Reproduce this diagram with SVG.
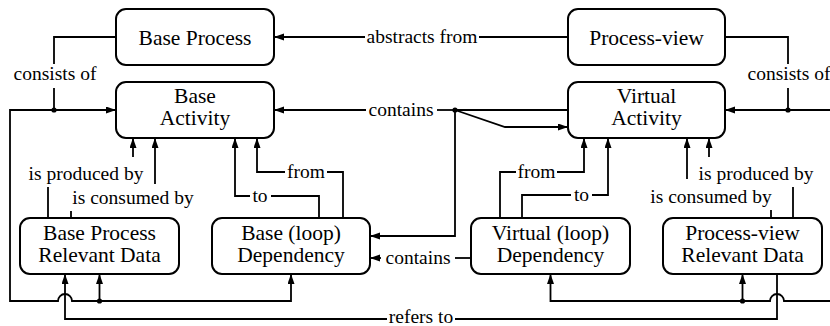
<svg xmlns="http://www.w3.org/2000/svg" width="830" height="326" viewBox="0 0 830 326">
<style>
.box{fill:#fff;stroke:#000;stroke-width:2}
.nt{font-size:21.5px;text-anchor:middle;fill:#000}
.lb{font-size:19.5px;text-anchor:middle;fill:#000}
.ln{fill:none;stroke:#000;stroke-width:1.8}
.ar{marker-end:url(#arr)}
.dot{fill:#000}
</style>
<defs>
<marker id="arr" markerUnits="userSpaceOnUse" markerWidth="11" markerHeight="8" refX="10" refY="3.5" orient="auto">
<path d="M0,0 L10,3.5 L0,7 z" fill="#000"/>
</marker>
</defs>
<rect width="830" height="326" fill="#fff"/>
<g id="connectors" font-family="Liberation Serif, Times New Roman, serif">
<g id="abstracts-from">
<path class="ln" d="M568,37 H479"/>
<path class="ln ar" d="M365,37 H274"/>
<text class="lb" x="422" y="43" font-family="Liberation Serif">abstracts from</text>
</g>
<g id="consists-of-left">
<path class="ln" d="M116,37 H54 V64"/>
<path class="ln" d="M54,88 V110"/>
<path class="ln ar" d="M54,110 H116"/>
<path class="ln ar" d="M54,110 H10 V301 H58 A7,7 0 0 1 72,301 H291 V274"/>
<path class="ln ar" d="M99.5,301 V274"/>
<circle class="dot" cx="54" cy="110" r="2.6"/>
<circle class="dot" cx="99.5" cy="301" r="2.6"/>
<text class="lb" x="55" y="80" font-family="Liberation Serif">consists of</text>
</g>
<g id="consists-of-right">
<path class="ln" d="M725,37 H788 V64"/>
<path class="ln" d="M788,88 V110"/>
<path class="ln ar" d="M788,110 H725"/>
<path class="ln" d="M788,110 H830"/>
<path class="ln ar" d="M830,301 H784 A7,7 0 0 0 770,301 H550.5 V274"/>
<path class="ln ar" d="M742.5,301 V274"/>
<circle class="dot" cx="788" cy="110" r="2.6"/>
<circle class="dot" cx="742.5" cy="301" r="2.6"/>
<text class="lb" x="789" y="80" font-family="Liberation Serif">consists of</text>
</g>
<g id="refers-to">
<path class="ln" d="M777,274 V319 H455"/>
<path class="ln ar" d="M387,319 H65 V274"/>
<text class="lb" x="421" y="323" font-family="Liberation Serif">refers to</text>
</g>
<g id="contains-top">
<path class="ln" d="M455,110 H568"/>
<path class="ln ar" d="M455,110 L505,127 H568"/>
<path class="ln" d="M455,110 H437"/>
<path class="ln ar" d="M366,110 H274"/>
<path class="ln ar" d="M455,110 V236 H370"/>
<circle class="dot" cx="455" cy="110" r="2.6"/>
<text class="lb" x="401" y="116" font-family="Liberation Serif">contains</text>
</g>
<g id="contains-bottom">
<path class="ln" d="M471,258 H455"/>
<path class="ln ar" d="M381,258 H370"/>
<text class="lb" x="418" y="264" font-family="Liberation Serif">contains</text>
</g>
<g id="left-produced">
<path class="ln" d="M48,218 V187"/>
<path class="ln ar" d="M133,157 V138"/>
<text class="lb" x="86" y="180" font-family="Liberation Serif">is produced by</text>
</g>
<g id="left-consumed">
<path class="ln" d="M71,218 V211"/>
<path class="ln ar" d="M155,184 V138"/>
<text class="lb" x="133" y="204" font-family="Liberation Serif">is consumed by</text>
</g>
<g id="left-to">
<path class="ln" d="M319,218 V196 H271"/>
<path class="ln ar" d="M250,196 H235 V138"/>
<text class="lb" x="260" y="202" font-family="Liberation Serif">to</text>
</g>
<g id="left-from">
<path class="ln" d="M343,218 V172 H327"/>
<path class="ln ar" d="M285,172 H257 V138"/>
<text class="lb" x="306" y="178" font-family="Liberation Serif">from</text>
</g>
<g id="right-from">
<path class="ln" d="M500,218 V172 H516"/>
<path class="ln ar" d="M557,172 H584 V138"/>
<text class="lb" x="536.5" y="178" font-family="Liberation Serif">from</text>
</g>
<g id="right-to">
<path class="ln" d="M522,218 V195 H571"/>
<path class="ln ar" d="M592,195 H608 V138"/>
<text class="lb" x="581.5" y="201" font-family="Liberation Serif">to</text>
</g>
<g id="right-consumed">
<path class="ln" d="M771,218 V210"/>
<path class="ln ar" d="M687,179 V138"/>
<text class="lb" x="711" y="203" font-family="Liberation Serif">is consumed by</text>
</g>
<g id="right-produced">
<path class="ln" d="M793,218 V187"/>
<path class="ln ar" d="M709,157 V138"/>
<text class="lb" x="756" y="180" font-family="Liberation Serif">is produced by</text>
</g>
</g>
<g id="base-process">
<rect class="box" x="116" y="9" width="158" height="56" rx="10"/>
<text class="nt" x="195" y="45" font-family="Liberation Serif">Base Process</text>
</g>
<g id="process-view">
<rect class="box" x="568" y="9" width="157" height="56" rx="10"/>
<text class="nt" x="646.5" y="45" font-family="Liberation Serif">Process-view</text>
</g>
<g id="base-activity">
<rect class="box" x="116" y="82" width="158" height="56" rx="10"/>
<text class="nt" x="195" y="103" font-family="Liberation Serif">Base</text>
<text class="nt" x="195" y="125" font-family="Liberation Serif">Activity</text>
</g>
<g id="virtual-activity">
<rect class="box" x="568" y="82" width="157" height="56" rx="10"/>
<text class="nt" x="646.5" y="103" font-family="Liberation Serif">Virtual</text>
<text class="nt" x="646.5" y="125" font-family="Liberation Serif">Activity</text>
</g>
<g id="base-process-relevant-data">
<rect class="box" x="20" y="218" width="159" height="56" rx="10"/>
<text class="nt" x="99.5" y="240" font-family="Liberation Serif">Base Process</text>
<text class="nt" x="99.5" y="262" font-family="Liberation Serif">Relevant Data</text>
</g>
<g id="base-loop-dependency">
<rect class="box" x="212" y="218" width="158" height="56" rx="10"/>
<text class="nt" x="291" y="240" font-family="Liberation Serif">Base (loop)</text>
<text class="nt" x="291" y="262" font-family="Liberation Serif">Dependency</text>
</g>
<g id="virtual-loop-dependency">
<rect class="box" x="471" y="218" width="159" height="56" rx="10"/>
<text class="nt" x="550.5" y="240" font-family="Liberation Serif">Virtual (loop)</text>
<text class="nt" x="550.5" y="262" font-family="Liberation Serif">Dependency</text>
</g>
<g id="process-view-relevant-data">
<rect class="box" x="663" y="218" width="159" height="56" rx="10"/>
<text class="nt" x="742.5" y="240" font-family="Liberation Serif">Process-view</text>
<text class="nt" x="742.5" y="262" font-family="Liberation Serif">Relevant Data</text>
</g>
</svg>
